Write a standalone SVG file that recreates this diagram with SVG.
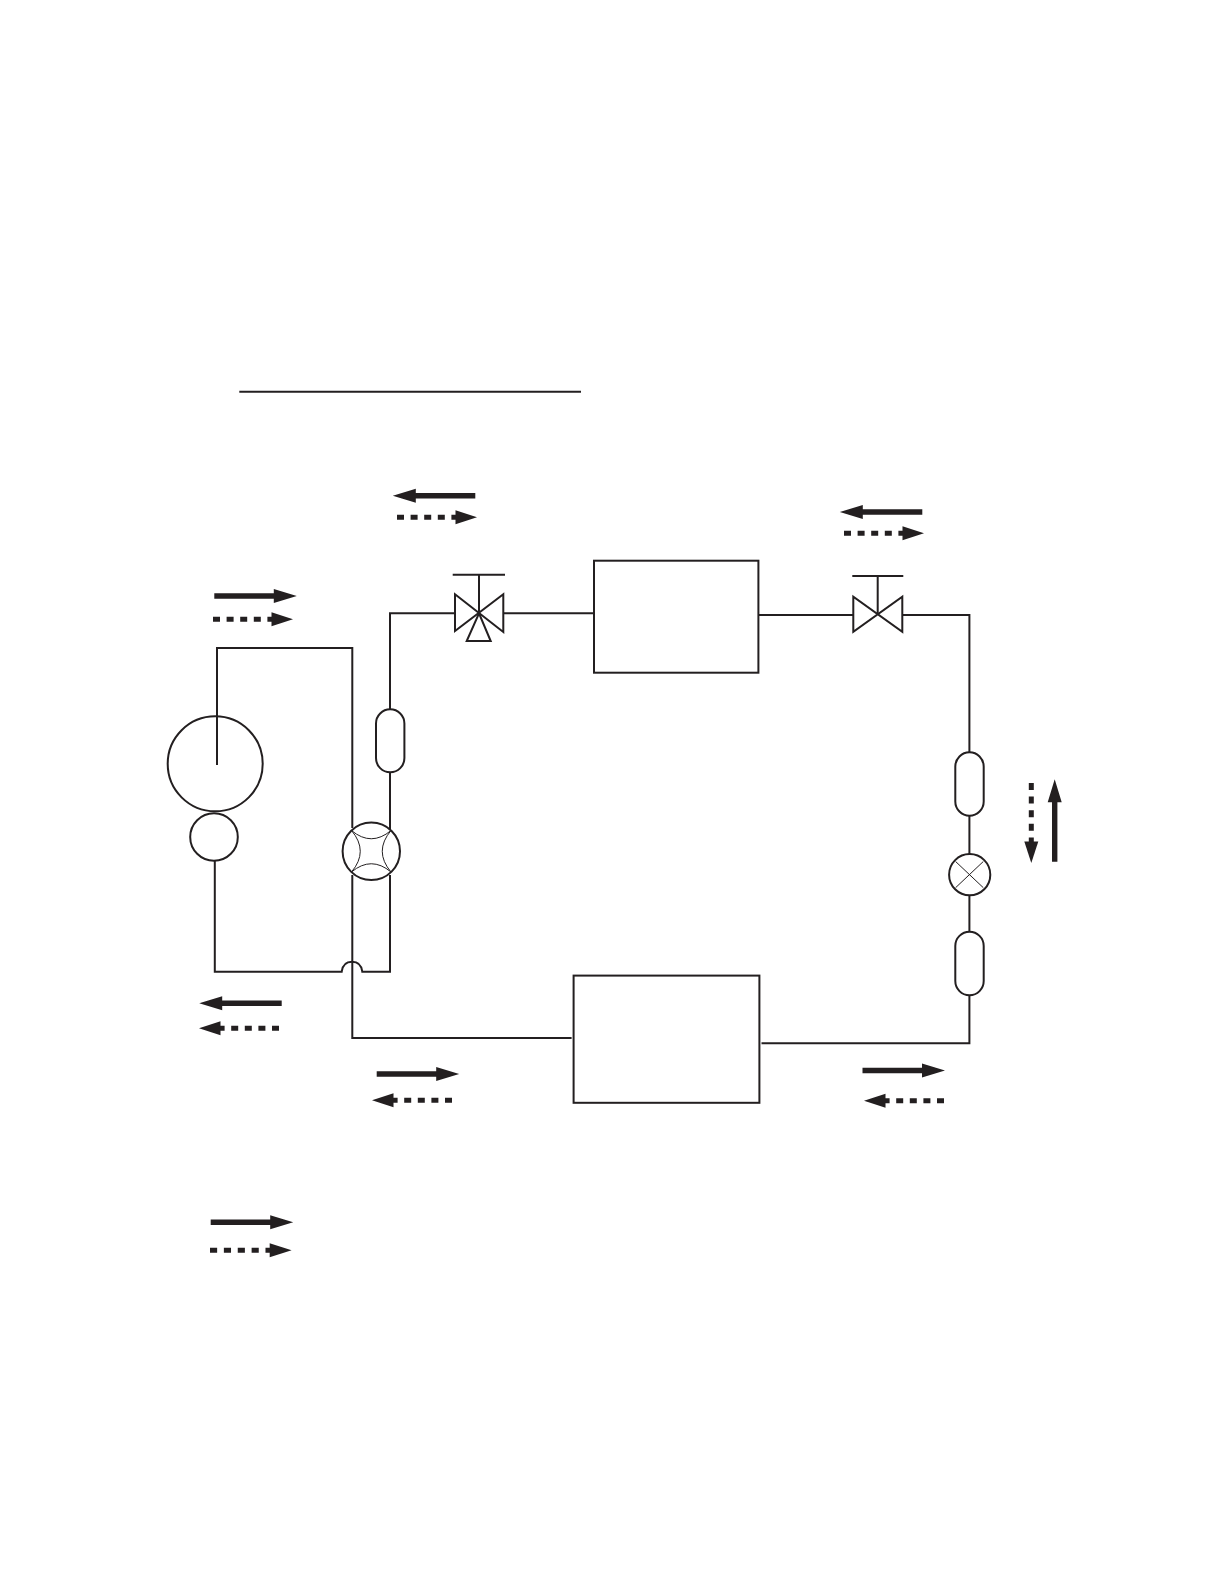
<svg xmlns="http://www.w3.org/2000/svg" width="1224" height="1584" viewBox="0 0 1224 1584">
<style>
.p{fill:none;stroke:#231f20;stroke-width:2;stroke-linejoin:miter}
.t{fill:none;stroke:#231f20;stroke-width:1}
.sh{fill:#231f20;stroke:none}
.da{fill:none;stroke:#231f20;stroke-width:5;stroke-dasharray:7 6.6}
</style>
<defs>
<g id="solid"><path class="sh" d="M0-2.7H59.5V-7L82.5 0L59.5 7V2.7H0Z"/></g>
<g id="dash"><line class="da" x1="0" y1="0" x2="62" y2="0"/><path class="sh" d="M58.5-7L80 0L58.5 7Z"/></g>
</defs>
<rect width="1224" height="1584" fill="#fff"/>
<line id="underline" class="p" x1="239.3" y1="391.8" x2="581" y2="391.8"/>
<g id="connectors">
<path class="p" d="M217 765V648H352.3V828"/>
<path class="p" d="M352.3 875V1038H571.6"/>
<path class="p" d="M214.8 861V971.7H341.7C342.5 965 346.5 961.7 352 961.7C357.5 961.7 361.5 965 362.3 971.7H390V875"/>
<path class="p" d="M390 830V772"/>
<path class="p" d="M390 709V613.3H455"/>
<path class="p" d="M503.3 613.3H594"/>
<path class="p" d="M758.4 615H853.3"/>
<path class="p" d="M902.3 615H969.4V752.3"/>
<path class="p" d="M969.4 815.7V854"/>
<path class="p" d="M969.4 895.5V931.7"/>
<path class="p" d="M969.4 995.3V1043.2H761.5"/>
</g>
<g id="compressor"><circle class="p" cx="215.2" cy="763.8" r="47.5"/></g>
<g id="accumulator"><circle class="p" cx="214" cy="837" r="23.8"/></g>
<g id="four-way-valve">
<circle class="p" cx="371.3" cy="851.3" r="28.7"/>
<path class="t" d="M351.5 830.5Q371.3 847 391 830.5Q373.5 851.3 391 872Q371.3 855.5 351.5 872Q369 851.3 351.5 830.5Z"/>
</g>
<g id="capsule-1"><rect class="p" x="376" y="709.3" width="28.4" height="63" rx="14.2"/></g>
<g id="capsule-2"><rect class="p" x="955.3" y="752.3" width="28.4" height="63.4" rx="14.2"/></g>
<g id="capsule-3"><rect class="p" x="955.3" y="931.7" width="28.4" height="63.6" rx="14.2"/></g>
<g id="expansion-valve">
<circle class="p" cx="969.7" cy="874.7" r="20.6"/>
<path class="t" d="M955.6 861.5L983.3 887.7M983.3 861.5L955.6 887.7"/>
</g>
<g id="three-way-valve">
<path class="p" d="M455 594.3V631L503.3 594.3V632Z"/>
<path class="p" d="M479 613.3L466.7 641H490.7Z"/>
<path class="p" d="M479 613.3V574.7M452.7 574.7H505"/>
</g>
<g id="two-way-valve">
<path class="p" d="M853.3 596.7V631.7L902.3 596.7V631.7Z"/>
<path class="p" d="M877.7 614V576M852.3 576H903.3"/>
</g>
<g id="box-top"><rect class="p" x="594" y="560.7" width="164.4" height="112"/></g>
<g id="box-bottom"><rect class="p" x="573.6" y="975.6" width="185.8" height="127.2"/></g>
<g id="arrows">
<use href="#solid" transform="translate(214.3 596)"/>
<use href="#dash" transform="translate(213 619.3)"/>
<use href="#solid" transform="translate(475.3 495.7) rotate(180)"/>
<use href="#dash" transform="translate(397 517.3)"/>
<use href="#solid" transform="translate(922.3 512) rotate(180)"/>
<use href="#dash" transform="translate(844 533.3)"/>
<use href="#dash" transform="translate(1031.3 783) rotate(90)"/>
<use href="#solid" transform="translate(1054.7 861.7) rotate(-90)"/>
<use href="#solid" transform="translate(281.7 1003.3) rotate(180)"/>
<use href="#dash" transform="translate(279 1028.3) rotate(180)"/>
<use href="#solid" transform="translate(376.7 1074)"/>
<use href="#dash" transform="translate(452 1100.3) rotate(180)"/>
<use href="#solid" transform="translate(862.5 1070.5)"/>
<use href="#dash" transform="translate(944 1100.8) rotate(180)"/>
<use href="#solid" transform="translate(210.7 1222.3)"/>
<use href="#dash" transform="translate(210 1250.3) scale(1.02 1)"/>
</g>
</svg>
